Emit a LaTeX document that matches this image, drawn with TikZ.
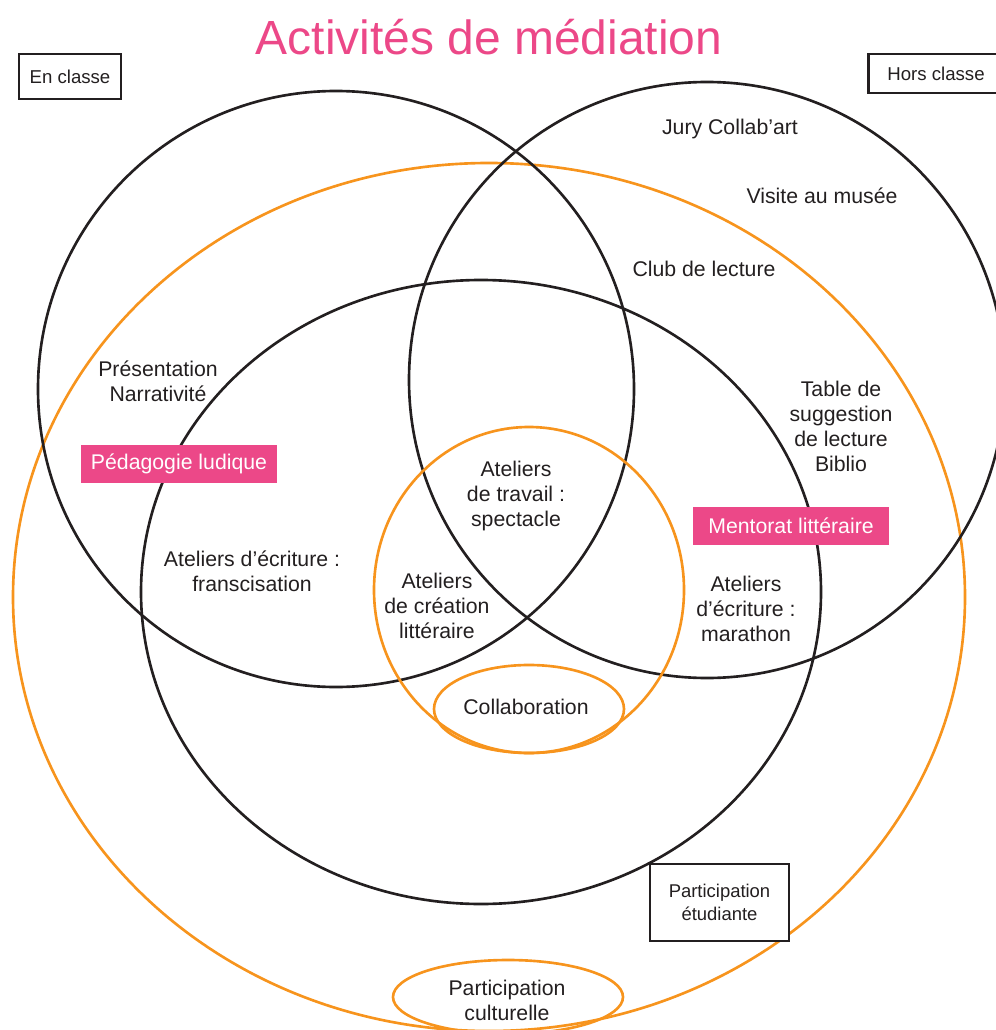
\documentclass[tikz,border=0pt]{standalone}
\usepackage{fontspec}
\setmainfont{Liberation Sans}
\usetikzlibrary{positioning}
\definecolor{rose}{RGB}{236,72,136}
\definecolor{orangeV}{RGB}{247,148,29}
\definecolor{encre}{RGB}{35,31,32}
\tikzset{
  cercle/.style={draw=encre, line width=1.5pt},
  cercleO/.style={draw=orangeV, line width=1.5pt},
  texte/.style={align=center, text=encre, inner sep=0pt, font=\fontsize{12.1}{14.2}\selectfont},
  cadre/.style={draw=encre, line width=1.3pt, fill=white, text=encre, align=center, inner sep=0pt},
  etiquette/.style={fill=rose, text=white, inner sep=0pt, minimum width=3.92cm, minimum height=0.76cm, font=\fontsize{12.1}{14}\selectfont},
}

\begin{document}
\begin{tikzpicture}[x=0.02cm, y=-0.02cm]
				\useasboundingbox (0,0) rectangle (996,1030);
				\clip (0,0) rectangle (996,1030);
				\coordinate (EnC) at (336,389);
				\coordinate (HorsC) at (707,380);
				\coordinate (Etud) at (481,592);
				\coordinate (Cult) at (489,597);
				\coordinate (Creat) at (529,590);
				
				% les cercles
				\draw[cercleO] (Cult) ellipse [x radius=476, y radius=434];
				\draw[cercle] (EnC) circle [radius=298];
				\draw[cercle] (HorsC) circle [radius=298];
				\draw[cercle] (Etud) ellipse [x radius=340, y radius=312];
				\draw[cercleO] (Creat) ellipse [x radius=155, y radius=163];
				\draw[cercleO] (529,709) ellipse [x radius=95, y radius=44];
				\draw[cercleO] (508,997) ellipse [x radius=115, y radius=37];
				
				\node[text=rose, inner sep=0pt, font=\fontsize{27.3}{30}\selectfont] (titre) at (489,37) {Activités de médiation};
				\node[cadre, minimum width=2.04cm, minimum height=0.9cm, font=\fontsize{10.6}{14.2}\selectfont] (enclasse) at (70,76.5) {En classe};
				\node[cadre, minimum width=2.7cm, minimum height=0.78cm, font=\fontsize{10.6}{14.2}\selectfont] (horsclasse) at (936,73.5) {Hors classe};
				\node[cadre, minimum width=2.78cm, minimum height=1.54cm, font=\fontsize{10.5}{13}\selectfont] (partetud) at (719.5,902.5) {Participation\\étudiante};
				
				\node[etiquette] (pedago) at (179,464) {Pédagogie ludique};
				\node[etiquette] (mentorat) at (791,525.5) {Mentorat littéraire};
				
				\node[texte] (jury) at (730,129) {Jury Collab’art};
				\node[texte] (musee) at (822,196) {Visite au musée};
				\node[texte] (club) at (704,269) {Club de lecture};
				\node[texte] (presentation) at (158,381) {Présentation\\Narrativité};
				\node[texte] (table) at (841,426) {Table de\\suggestion\\de lecture\\Biblio};
				\node[texte] (spectacle) at (516,496) {Ateliers\\de travail :\\spectacle};
				\node[texte] (francisation) at (252,571) {Ateliers d’écriture :\\franscisation};
				\node[texte] (creation) at (437,606) {Ateliers\\de création\\littéraire};
				\node[texte] (marathon) at (746,609) {Ateliers\\d’écriture :\\marathon};
				\node[texte] (collab) at (526,707) {Collaboration};
				\node[texte] (partcult) at (507,1000) {Participation\\culturelle};
			\end{tikzpicture}
\end{document}
